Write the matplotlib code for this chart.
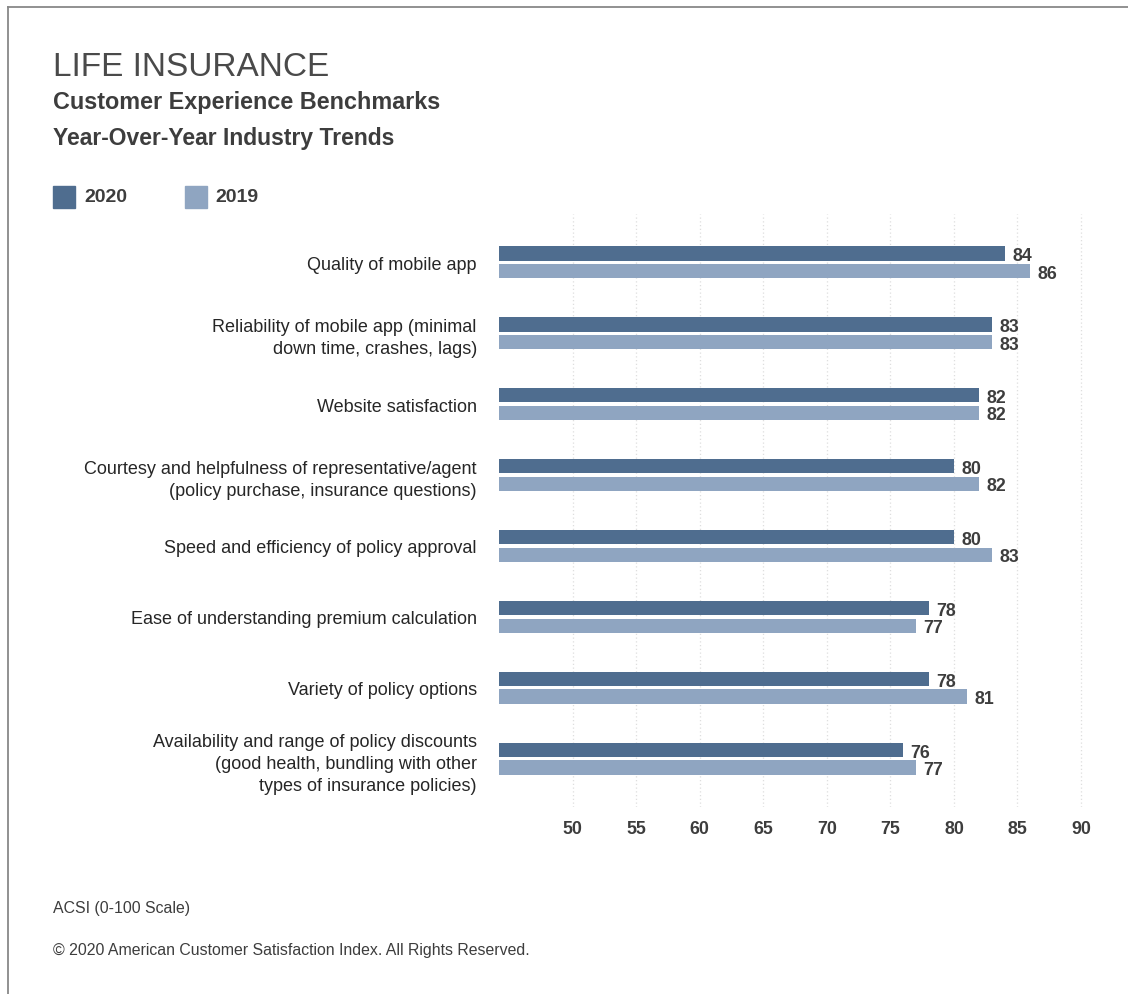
import numpy as np
import matplotlib
matplotlib.use('Agg')
import matplotlib.pyplot as plt
from matplotlib import font_manager
from matplotlib.lines import Line2D
from matplotlib.patches import Rectangle

# benchmark categories, top to bottom
categories = [
	'Quality of mobile app',
	'Reliability of mobile app (minimal\ndown time, crashes, lags)',
	'Website satisfaction',
	'Courtesy and helpfulness of representative/agent\n(policy purchase, insurance questions)',
	'Speed and efficiency of policy approval',
	'Ease of understanding premium calculation',
	'Variety of policy options',
	'Availability and range of policy discounts\n(good health, bundling with other\ntypes of insurance policies)',
]
scores_2020 = [84, 83, 82, 80, 80, 78, 78, 76]
scores_2019 = [86, 83, 82, 82, 83, 77, 81, 77]
ticks = [50, 55, 60, 65, 70, 75, 80, 85, 90]

# pick a narrow font if there is one
names = {f.name for f in font_manager.fontManager.ttflist}
font = 'Liberation Sans Narrow' if 'Liberation Sans Narrow' in names else 'Liberation Sans'
plt.rcParams['font.family'] = [font, 'DejaVu Sans']

dark = '#4f6d8f'
light = '#8fa5c1'
txt = '#3d3d3d'

W, H = 1128, 995
fig = plt.figure(figsize=(W / 100, H / 100), dpi=100)

# axes area in pixels
left, right = 499, 1095
top, bottom = 215, 808
ax = fig.add_axes([left / W, 1 - bottom / H, (right - left) / W, (bottom - top) / H])

n = len(categories)
y = np.arange(n)
bh = 0.2
off = 0.123
ax.barh(y - off, scores_2020, height=bh, color=dark, left=0)
ax.barh(y + off, scores_2019, height=bh, color=light, left=0)

for i in range(n):
	ax.text(scores_2020[i] + 0.6, y[i] - off + 0.03, str(scores_2020[i]), va='center', ha='left',
		fontsize=12.8, fontweight='bold', color=txt)
	ax.text(scores_2019[i] + 0.6, y[i] + off + 0.03, str(scores_2019[i]), va='center', ha='left',
		fontsize=12.8, fontweight='bold', color=txt)

ax.set_xlim(44.2, 91.1)
ax.set_ylim(n - 0.32, -0.68)
ax.set_xticks(ticks)
ax.set_xticklabels([str(t) for t in ticks], fontsize=12.8, fontweight='bold', color=txt)
ax.set_yticks(y)
ax.set_yticklabels(categories, fontsize=13, color='#262626', linespacing=1.4)
ax.tick_params(axis='both', length=0)
ax.tick_params(axis='x', pad=9)
ax.tick_params(axis='y', pad=16)
for s in ax.spines.values():
	s.set_visible(False)
ax.grid(axis='x', color='#dedede', linestyle=(0, (1, 2)), linewidth=0.9)
ax.set_axisbelow(True)

# titles
fig.text(53 / W, 1 - 67 / H, 'LIFE INSURANCE', fontsize=24, color='#4a4a4a', va='center', ha='left')
fig.text(53 / W, 1 - 103 / H, 'Customer Experience Benchmarks', fontsize=16.8, fontweight='bold', color=txt, va='center')
fig.text(53 / W, 1 - 138 / H, 'Year-Over-Year Industry Trends', fontsize=16.5, fontweight='bold', color=txt, va='center')

# legend
fig.add_artist(Rectangle((53 / W, 1 - 209 / H), 22 / W, 22 / H, color=dark, transform=fig.transFigure))
fig.text(84 / W, 1 - 198 / H, '2020', fontsize=14, fontweight='bold', color=txt, va='center')
fig.add_artist(Rectangle((185 / W, 1 - 209 / H), 22 / W, 22 / H, color=light, transform=fig.transFigure))
fig.text(215 / W, 1 - 198 / H, '2019', fontsize=14, fontweight='bold', color=txt, va='center')

# footnotes
fig.text(53 / W, 1 - 909 / H, 'ACSI (0-100 Scale)', fontsize=11.4, color=txt, va='center')
fig.text(53 / W, 1 - 951 / H, '\u00a9 2020 American Customer Satisfaction Index. All Rights Reserved.',
	fontsize=11.4, color=txt, va='center')

# frame on top and left
fig.add_artist(Line2D([8 / W, 1], [1 - 8 / H, 1 - 8 / H], color='#888888', linewidth=1.3, transform=fig.transFigure))
fig.add_artist(Line2D([8 / W, 8 / W], [1 - 8 / H, 0], color='#888888', linewidth=1.3, transform=fig.transFigure))

fig.savefig('out.png', dpi=100, facecolor='white')
